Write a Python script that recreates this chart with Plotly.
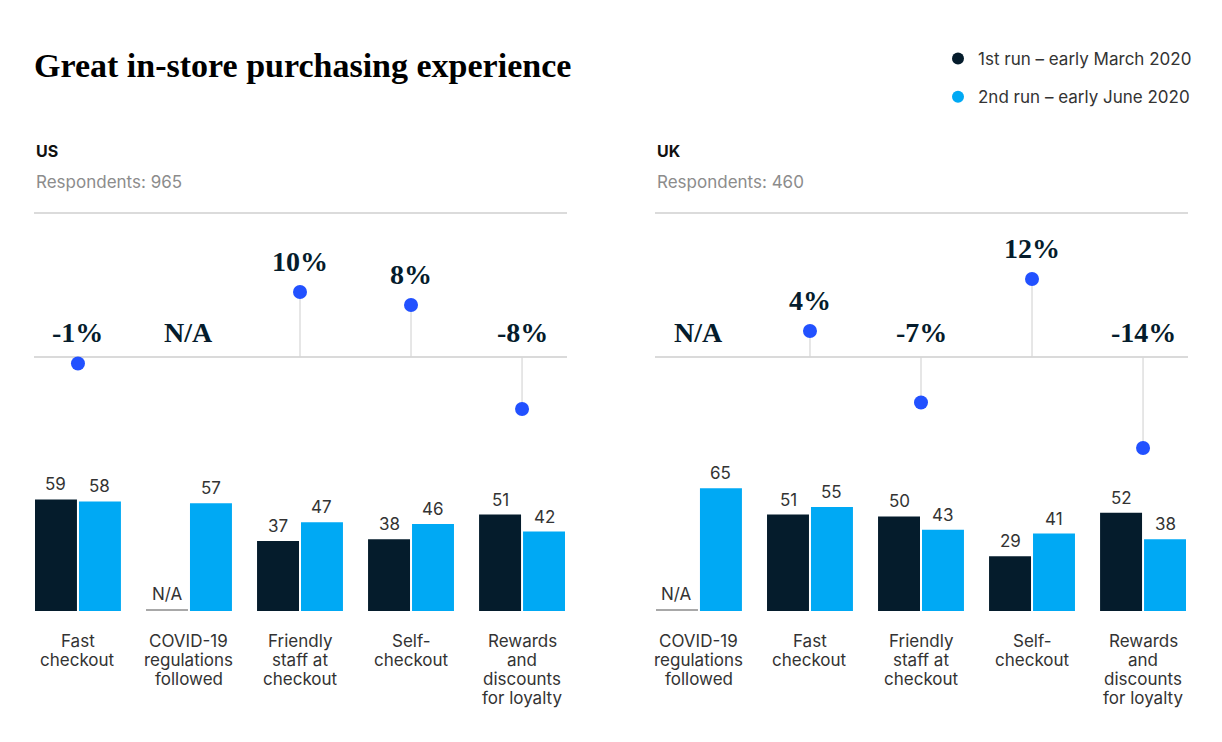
import plotly.graph_objects as go

# ---------------- data ----------------
US_CATEGORIES = ["Fast\ncheckout", "COVID-19\nregulations\nfollowed", "Friendly\nstaff at\ncheckout",
                 "Self-\ncheckout", "Rewards\nand\ndiscounts\nfor loyalty"]
US_MARCH = [59, None, 37, 38, 51]
US_JUNE = [58, 57, 47, 46, 42]
US_CHANGE = [-1, None, 10, 8, -8]
US_RESPONDENTS = 965

UK_CATEGORIES = ["COVID-19\nregulations\nfollowed", "Fast\ncheckout", "Friendly\nstaff at\ncheckout",
                 "Self-\ncheckout", "Rewards\nand\ndiscounts\nfor loyalty"]
UK_MARCH = [None, 51, 50, 29, 52]
UK_JUNE = [65, 55, 43, 41, 38]
UK_CHANGE = [None, 4, -7, 12, -14]
UK_RESPONDENTS = 460

SERIES_NAMES = ["1st run \u2013 early March 2020", "2nd run \u2013 early June 2020"]
TITLE = "Great in-store purchasing experience"

# ---------------- style ----------------
W, H = 1222, 742
OFF = 8  # page body margin
DARK = "#051C2C"
BLUE = "#00A9F4"
DOT = "#2251FF"
STEM = "#D6D6D6"
NA_GRAY = "#A8A8A8"
TXT = "#333333"
SANS = "Inter, Roboto, Arial, sans-serif"
SERIF = "Liberation Serif, Times New Roman, serif"
NA_STUB = 1.0  # thin placeholder bar for N/A values

BAR_W = 0.378
OFF_DARK = -0.387
OFF_BLUE = 0.009
XRANGE = [-0.396, 4.405]
LINE_H = 19


def fx(px):
    return (px - OFF) / W


def fy(py):
    return 1 - (py - OFF) / H


fig = go.Figure()
annotations = []
shapes = []

panels = [
    dict(name="US", cats=US_CATEGORIES, march=US_MARCH, june=US_JUNE, change=US_CHANGE,
         resp=US_RESPONDENTS, x0=34, x1=567, ax_l="", ax_b="2"),
    dict(name="UK", cats=UK_CATEGORIES, march=UK_MARCH, june=UK_JUNE, change=UK_CHANGE,
         resp=UK_RESPONDENTS, x0=655, x1=1188, ax_l="3", ax_b="4"),
]

for p in panels:
    n = len(p["cats"])
    idx = list(range(n))
    xl, yl = "x" + p["ax_l"], "y" + p["ax_l"]
    xb, yb = "x" + p["ax_b"], "y" + p["ax_b"]

    # ---- lollipop stems ----
    sx, sy = [], []
    for i, v in zip(idx, p["change"]):
        if v is None:
            continue
        sx += [i, i, None]
        sy += [0, v, None]
    fig.add_trace(go.Scatter(x=sx, y=sy, mode="lines", line=dict(color=STEM, width=1.2),
                             xaxis=xl, yaxis=yl, showlegend=False, hoverinfo="skip"))
    # ---- lollipop dots ----
    dx = [i for i, v in zip(idx, p["change"]) if v is not None]
    dy = [v for v in p["change"] if v is not None]
    fig.add_trace(go.Scatter(x=dx, y=dy, mode="markers", marker=dict(color=DOT, size=14),
                             xaxis=xl, yaxis=yl, showlegend=False, cliponaxis=False))
    for i, v in zip(idx, p["change"]):
        if v is not None and v > 0:
            annotations.append(dict(x=i, y=v, xref=xl, yref=yl, text=f"<b>{v}%</b>", showarrow=False,
                                    yanchor="middle", yshift=31,
                                    font=dict(family=SERIF, size=28, color=DARK)))
        else:
            txt = "N/A" if v is None else f"{v}%"
            annotations.append(dict(x=i, y=0, xref=xl, yref=yl, text=f"<b>{txt}</b>", showarrow=False,
                                    yanchor="middle", yshift=25,
                                    font=dict(family=SERIF, size=28, color=DARK)))

    # ---- bars ----
    march_disp = [v if v is not None else NA_STUB for v in p["march"]]
    march_col = [DARK if v is not None else NA_GRAY for v in p["march"]]
    fig.add_trace(go.Bar(x=idx, y=march_disp, width=BAR_W, offset=OFF_DARK,
                         marker=dict(color=march_col, line=dict(width=0)),
                         xaxis=xb, yaxis=yb, showlegend=False, name=SERIES_NAMES[0]))
    fig.add_trace(go.Bar(x=idx, y=p["june"], width=BAR_W, offset=OFF_BLUE,
                         marker=dict(color=BLUE, line=dict(width=0)),
                         xaxis=xb, yaxis=yb, showlegend=False, name=SERIES_NAMES[1]))
    for i, v, d in zip(idx, p["march"], march_disp):
        annotations.append(dict(x=i + OFF_DARK + BAR_W / 2, y=d, xref=xb, yref=yb,
                                text="N/A" if v is None else str(v), showarrow=False,
                                yanchor="bottom", yshift=3, font=dict(family=SANS, size=17, color=TXT)))
    for i, v in zip(idx, p["june"]):
        annotations.append(dict(x=i + OFF_BLUE + BAR_W / 2, y=v, xref=xb, yref=yb,
                                text=str(v), showarrow=False,
                                yanchor="bottom", yshift=3, font=dict(family=SANS, size=17, color=TXT)))
    for i, c in zip(idx, p["cats"]):
        for k, line in enumerate(c.split("\n")):
            annotations.append(dict(x=i, y=0, xref=xb, yref=yb, text=line,
                                    showarrow=False, yanchor="middle", yshift=-(30 + LINE_H * k),
                                    font=dict(family=SANS, size=17, color=TXT)))

    # ---- panel headers ----
    annotations.append(dict(x=fx(p["x0"]), y=fy(151), xref="paper", yref="paper", xanchor="left",
                            yanchor="middle", showarrow=False, text=f"<b>{p['name']}</b>",
                            font=dict(family=SANS, size=16, color="#111111")))
    annotations.append(dict(x=fx(p["x0"]), y=fy(182), xref="paper", yref="paper", xanchor="left",
                            yanchor="middle", showarrow=False, text=f"Respondents: {p['resp']}",
                            font=dict(family=SANS, size=17, color="#8C8C8C")))
    shapes.append(dict(type="line", xref=xl + " domain", yref="paper", x0=0, x1=1,
                       y0=fy(213), y1=fy(213), line=dict(color="#CFCFCF", width=1.5)))

    dom_x = [fx(p["x0"]), fx(p["x1"])]
    lol_top, lol_bot = 225, 465
    ppu = 6.5
    fig.update_layout(**{
        "xaxis" + p["ax_l"]: dict(domain=dom_x, range=XRANGE, visible=False, fixedrange=True),
        "yaxis" + p["ax_l"]: dict(domain=[fy(lol_bot), fy(lol_top)],
                                  range=[-(lol_bot - 357) / ppu, (357 - lol_top) / ppu],
                                  showgrid=False, showticklabels=False, ticks="", showline=False,
                                  zeroline=True, zerolinecolor="#DADADA", zerolinewidth=1.5),
        "xaxis" + p["ax_b"]: dict(domain=dom_x, range=XRANGE, visible=False, fixedrange=True),
        "yaxis" + p["ax_b"]: dict(domain=[fy(611), fy(460)], range=[0, 151 / 1.89], visible=False),
    })

# legend entries
for name, col, grp in zip(SERIES_NAMES, [DARK, BLUE], ["a", "b"]):
    fig.add_trace(go.Scatter(x=[None], y=[None], mode="markers", name=name, legendgroup=grp,
                             marker=dict(color=col, size=12), xaxis="x", yaxis="y"))

annotations.append(dict(x=fx(32), y=fy(65), xref="paper", yref="paper", xanchor="left", yanchor="middle",
                        showarrow=False, text=f"<b>{TITLE}</b>",
                        font=dict(family=SERIF, size=34, color="#000000")))

fig.update_layout(
    width=W, height=H, margin=dict(l=0, r=0, t=0, b=0),
    paper_bgcolor="white", plot_bgcolor="white",
    barmode="overlay",
    annotations=annotations, shapes=shapes,
    showlegend=True,
    legend=dict(x=fx(938), y=fy(41), xanchor="left", yanchor="top",
                font=dict(family=SANS, size=17, color=TXT), tracegroupgap=13,
                bgcolor="rgba(0,0,0,0)", itemwidth=30),
)

fig.write_html("out.html")
